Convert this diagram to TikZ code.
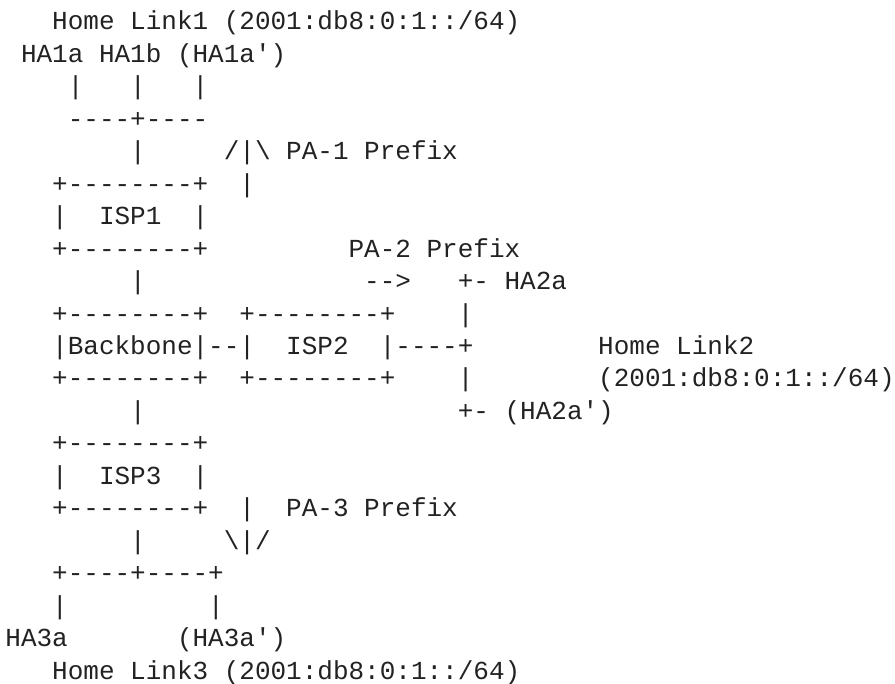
\documentclass[tikz,border=0pt]{standalone}
\usepackage{fontspec}
\setmonofont{Liberation Mono}
\definecolor{ink}{HTML}{222222}
\tikzset{asciitext/.style={anchor=base west, inner sep=0pt, outer sep=0pt, text=ink,
  font=\ttfamily\fontsize{26bp}{32bp}\selectfont}}
\newcommand\Tx[4]{\node[asciitext] (#1) at ({5.4+15.6*#2},{-30-32.45*#3}) {#4};}
\begin{document}
\begin{tikzpicture}[x=1bp,y=1bp]
\fill[white] (0,0) rectangle (895,-684);
\useasboundingbox (0,0) rectangle (895,-684);
% row 0
\Tx{hl1}{3}{0}{Home Link1 (2001:db8:0:1::/64)}
% row 1
\Tx{ha1}{1}{1}{HA1a HA1b (HA1a')}
% row 2
\Tx{r2a}{4}{2}{|}
\Tx{r2b}{8}{2}{|}
\Tx{r2c}{12}{2}{|}
% row 3
\Tx{r3a}{4}{3}{----+----}
% row 4
\Tx{r4a}{8}{4}{|}
\Tx{pa1}{14}{4}{/|\textbackslash\ PA-1 Prefix}
% row 5
\Tx{isp1t}{3}{5}{+--------+}
\Tx{r5b}{15}{5}{|}
% row 6
\Tx{isp1l}{3}{6}{|}
\Tx{isp1}{6}{6}{ISP1}
\Tx{isp1r}{12}{6}{|}
% row 7
\Tx{isp1b}{3}{7}{+--------+}
\Tx{pa2}{22}{7}{PA-2 Prefix}
% row 8
\Tx{r8a}{8}{8}{|}
\Tx{arr2}{23}{8}{-->}
\Tx{ha2}{29}{8}{+- HA2a}
% row 9
\Tx{bbt}{3}{9}{+--------+}
\Tx{isp2t}{15}{9}{+--------+}
\Tx{r9c}{29}{9}{|}
% row 10
\Tx{bb}{3}{10}{|Backbone|--|}
\Tx{isp2}{18}{10}{ISP2}
\Tx{isp2r}{24}{10}{|----+}
\Tx{hl2}{38}{10}{Home Link2}
% row 11
\Tx{bbb}{3}{11}{+--------+}
\Tx{isp2b}{15}{11}{+--------+}
\Tx{r11c}{29}{11}{|}
\Tx{hl2p}{38}{11}{(2001:db8:0:1::/64)}
% row 12
\Tx{r12a}{8}{12}{|}
\Tx{ha2p}{29}{12}{+- (HA2a')}
% row 13
\Tx{isp3t}{3}{13}{+--------+}
% row 14
\Tx{isp3l}{3}{14}{|}
\Tx{isp3}{6}{14}{ISP3}
\Tx{isp3r}{12}{14}{|}
% row 15
\Tx{isp3b}{3}{15}{+--------+}
\Tx{r15b}{15}{15}{|}
\Tx{pa3}{18}{15}{PA-3 Prefix}
% row 16
\Tx{r16a}{8}{16}{|}
\Tx{arr3}{14}{16}{\textbackslash|/}
% row 17
\Tx{r17a}{3}{17}{+----+----+}
% row 18
\Tx{r18a}{3}{18}{|}
\Tx{r18b}{13}{18}{|}
% row 19
\Tx{ha3}{0}{19}{HA3a}
\Tx{ha3p}{11}{19}{(HA3a')}
% row 20
\Tx{hl3}{3}{20}{Home Link3 (2001:db8:0:1::/64)}
\end{tikzpicture}
\end{document}
